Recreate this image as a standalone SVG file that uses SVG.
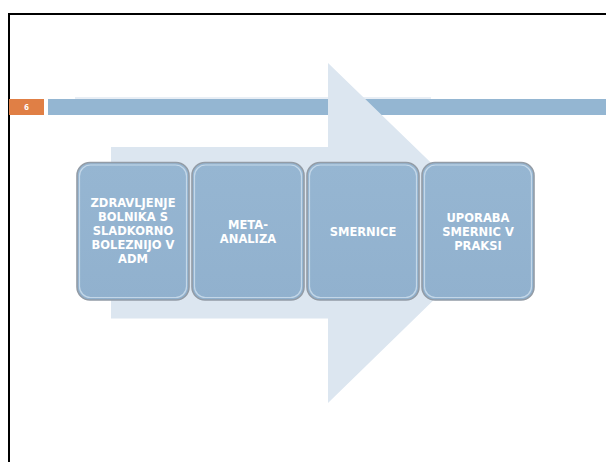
<svg xmlns="http://www.w3.org/2000/svg" width="606" height="462" viewBox="0 0 606 462">
<style>
.lbl{font-family:"DejaVu Sans","Liberation Sans",sans-serif;font-weight:bold;font-size:11.5px;fill:#ffffff;text-anchor:middle}
.box{fill:url(#bg);stroke:#939ca6;stroke-width:1.6}
.hl{fill:none;stroke:#cfe0ee;stroke-width:1.2;opacity:0.8}
</style>
<defs>
<linearGradient id="bg" x1="0" y1="0" x2="0" y2="1">
<stop offset="0" stop-color="#96b6d2"/>
<stop offset="1" stop-color="#91b1ce"/>
</linearGradient>
</defs>
<rect width="606" height="462" fill="#ffffff"/>
<path d="M9,462 V14 H606" fill="none" stroke="#000000" stroke-width="2"/>
<g id="header">
<rect x="9" y="99" width="35" height="16" fill="#e07f45"/>
<text x="26.5" y="110" font-family="'Open Sans','Liberation Sans',sans-serif" font-weight="bold" font-size="8" fill="#ffffff" text-anchor="middle">6</text>
<rect x="48" y="99" width="558" height="16" fill="#94b6d2"/>
<rect x="75" y="97" width="356" height="2" fill="#e8eef5"/>
</g>
<g id="arrow">
<path d="M111,147 H328 V63 L503,232.5 L328,403 V318.5 H111 Z" fill="#dce6f0"/>
</g>
<g id="connectors"></g>
<g id="n1">
<rect class="box" x="77" y="162.5" width="112" height="137.5" rx="13"/>
<rect class="hl" x="79.5" y="165" width="107" height="132.5" rx="11"/>
<text class="lbl" x="133" y="207">ZDRAVLJENJE</text>
<text class="lbl" x="133" y="221">BOLNIKA S</text>
<text class="lbl" x="133" y="235">SLADKORNO</text>
<text class="lbl" x="133" y="249">BOLEZNIJO V</text>
<text class="lbl" x="133" y="263">ADM</text>
</g>
<g id="n2">
<rect class="box" x="192" y="162.5" width="112" height="137.5" rx="13"/>
<rect class="hl" x="194.5" y="165" width="107" height="132.5" rx="11"/>
<text class="lbl" x="248" y="229">META-</text>
<text class="lbl" x="248" y="243">ANALIZA</text>
</g>
<g id="n3">
<rect class="box" x="307" y="162.5" width="112" height="137.5" rx="13"/>
<rect class="hl" x="309.5" y="165" width="107" height="132.5" rx="11"/>
<text class="lbl" x="363" y="236">SMERNICE</text>
</g>
<g id="n4">
<rect class="box" x="422" y="162.5" width="112" height="137.5" rx="13"/>
<rect class="hl" x="424.5" y="165" width="107" height="132.5" rx="11"/>
<text class="lbl" x="478" y="222">UPORABA</text>
<text class="lbl" x="478" y="236">SMERNIC V</text>
<text class="lbl" x="478" y="250">PRAKSI</text>
</g>
</svg>
